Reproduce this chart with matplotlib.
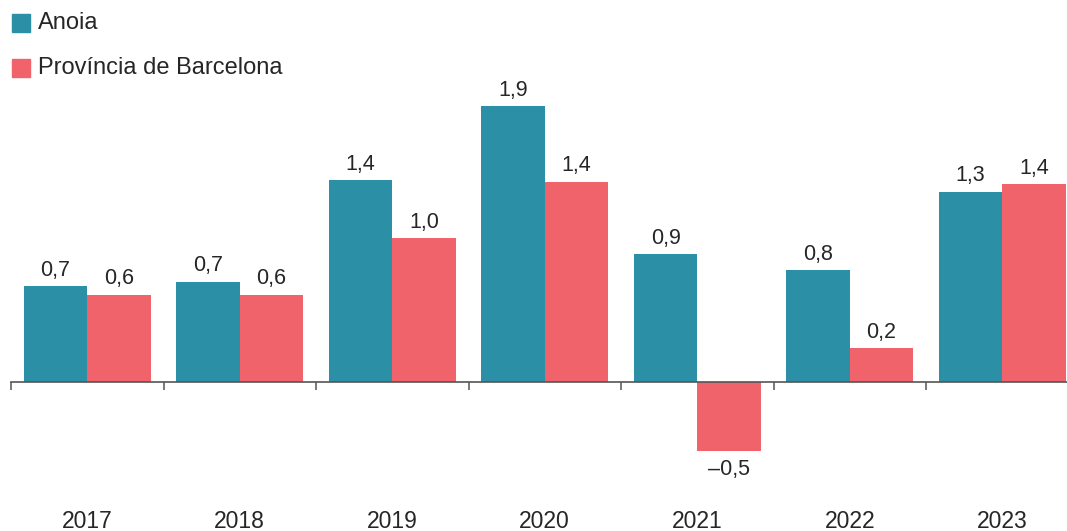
import numpy as np
import matplotlib
matplotlib.use("Agg")
import matplotlib.pyplot as plt
from matplotlib import transforms
from matplotlib.patches import Rectangle

# Data
##########################################
years = ["2017", "2018", "2019", "2020", "2021", "2022", "2023"]
anoia = [0.66, 0.69, 1.39, 1.90, 0.88, 0.77, 1.31]
barcelona = [0.60, 0.60, 0.99, 1.38, -0.48, 0.23, 1.36]
series_names = ["Anoia", "Província de Barcelona"]

# Style
##########################################
teal = "#2b90a6"
red = "#f0636b"
text_col = "#262626"
plt.rcParams["font.family"] = ["Liberation Sans", "DejaVu Sans"]


def fmt(v):
    s = f"{abs(v):.1f}".replace(".", ",")
    return ("\u2013" + s) if v < 0 else s


W, H = 1067, 531
fig = plt.figure(figsize=(W / 100, H / 100), dpi=100)

# axes placed in pixels: baseline ~381.7px from top, 145 px per unit
ymin, ymax = -0.8, 2.0
px_unit = 145
base = 381.7
top_px = base - ymax * px_unit
bot_px = base - ymin * px_unit
left_px = 11
group_px = 152.5
ax = fig.add_axes([left_px / W, (H - bot_px) / H, 7 * group_px / W, (bot_px - top_px) / H])
ax.set_xlim(-0.5, 6.5)
ax.set_ylim(ymin, ymax)

x = np.arange(len(years))
bw = 0.415
b1 = ax.bar(x - bw / 2, anoia, bw, color=teal, zorder=2)
b2 = ax.bar(x + bw / 2, barcelona, bw, color=red, zorder=2)

for bars, vals in ((b1, anoia), (b2, barcelona)):
    for rect, v in zip(bars, vals):
        cx = rect.get_x() + rect.get_width() / 2
        off = 11.5 if v >= 0 else -13
        ax.annotate(fmt(v), (cx, v), xytext=(0, off), textcoords="offset points",
                    ha="center", va="center", fontsize=15.5, color=text_col)

# axis styling
for s in ("top", "right", "left"):
    ax.spines[s].set_visible(False)
ax.spines["bottom"].set_position(("data", 0))
ax.spines["bottom"].set_color("#555555")
ax.spines["bottom"].set_linewidth(1.2)
ax.spines["bottom"].set_zorder(3)
ax.set_yticks([])
ax.set_xticks(np.arange(-0.5, 7, 1))
ax.set_xticklabels([])
ax.tick_params(axis="x", length=6, width=1.1, color="#555555", direction="out")

# year labels at the bottom of the figure
trans = transforms.blended_transform_factory(ax.transData, fig.transFigure)
for xi, yr in zip(x, years):
    ax.text(xi, (H - 521) / H, yr, transform=trans, ha="center", va="center",
            fontsize=16.5, color=text_col)

# legend
for i, (name, col) in enumerate(zip(series_names, (teal, red))):
    yc = 23 + i * 45
    fig.patches.append(Rectangle((12 / W, (H - yc - 9) / H), 18 / W, 18 / H,
                                 transform=fig.transFigure, color=col))
    fig.text(38 / W, (H - yc) / H, name, ha="left", va="center",
             fontsize=17, color=text_col)

fig.savefig("out.png", dpi=100)
